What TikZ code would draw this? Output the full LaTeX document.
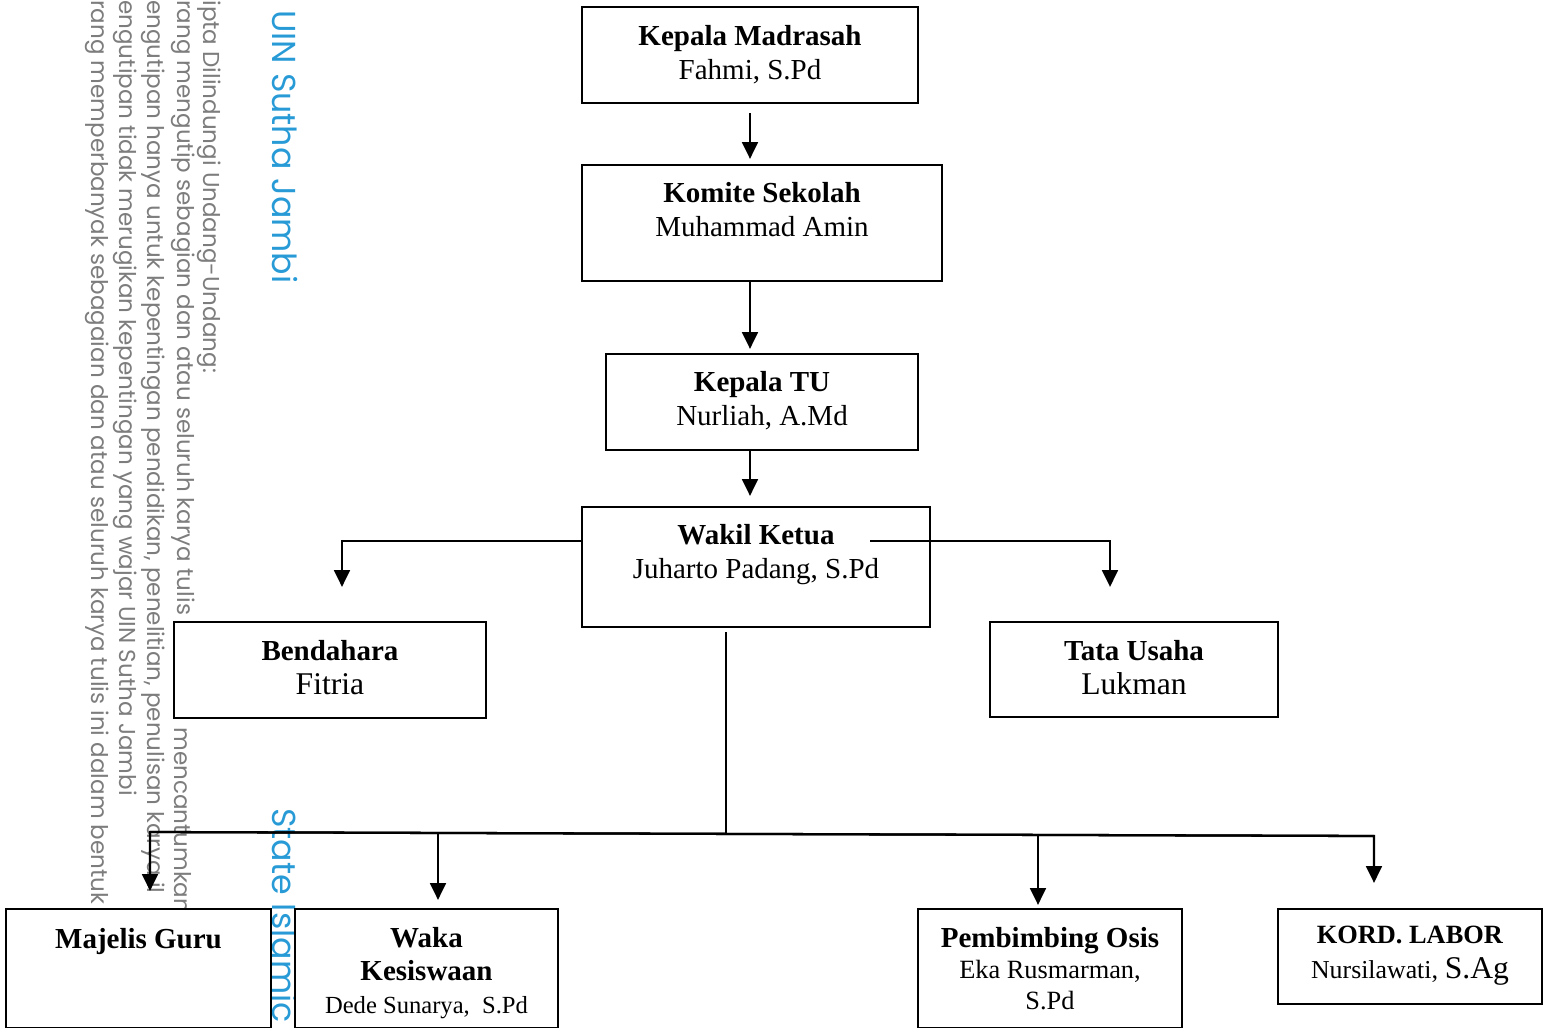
\documentclass[tikz,border=0pt]{standalone}
\usepackage{fontspec}
\setmainfont{Liberation Serif}
\newfontfamily\wmfont{Poppins}
\usetikzlibrary{positioning, arrows.meta}

\definecolor{wmgray}{RGB}{125,125,125}
\definecolor{wmblue}{RGB}{40,155,215}

\tikzset{
  unit/.style={draw, line width=1.3pt, fill=white, inner sep=0pt},
  lbl/.style={inner sep=0pt, align=center, font=\fontsize{16.5}{19.4}\selectfont},
  wm/.style={rotate=-90, anchor=west, inner sep=0pt, text=wmgray,
    font=\wmfont\fontsize{13.1}{15}\selectfont},
  wmb/.style={wm, text=wmblue, font=\wmfont\fontsize{18.9}{21}\selectfont},
  seg/.style={line width=1.3pt},
  link/.style={seg, -{Triangle[width=9pt,length=9.5pt]}}
}

\begin{document}
\begin{tikzpicture}[x=0.02cm, y=-0.02cm]
  \useasboundingbox (0,0) rectangle (1543,1028);

  % watermark of the scan
  \node[wm] (hak) at (209,0) {ipta Dilindungi Undang-Undang:};
  \node[wm] (kutipa) at (183,0) {rang mengutip sebagian dan atau seluruh karya tulis i};
  \node[wm] (kutipb) at (183,727) {mencantumkan};
  \node[wm] (guna) at (153,0) {engutipan hanya untuk kepentingan pendidikan, penelitian, penulisan karya il};
  \node[wm] (rugi) at (125,0) {engutipan tidak merugikan kepentingan yang wajar UIN Sutha Jambi};
  \node[wm] (banyak) at (97,0) {rang memperbanyak sebagaian dan atau seluruh karya tulis ini dalam bentuk};
  \node[wmb] (uin) at (285,10) {UIN Sutha Jambi};
  \node[wmb] (state) at (285,808) {State Islamic};

  % boxes
  \node[unit, minimum width=6.72cm, minimum height=1.92cm] (madrasah) at (750,55) {};
  \node[unit, minimum width=7.2cm, minimum height=2.32cm] (komite) at (762,223) {};
  \node[unit, minimum width=6.24cm, minimum height=1.92cm] (kepalatu) at (762,402) {};
  \node[unit, minimum width=6.96cm, minimum height=2.4cm] (wakil) at (756,567) {};
  \node[unit, minimum width=6.24cm, minimum height=1.92cm] (bendahara) at (330,670) {};
  \node[unit, minimum width=5.76cm, minimum height=1.9cm] (tatausaha) at (1134,669.5) {};
  \node[unit, minimum width=5.3cm, minimum height=2.38cm] (majelis) at (138.5,968.5) {};
  \node[unit, minimum width=5.26cm, minimum height=2.38cm] (waka) at (426.5,968.5) {};
  \node[unit, minimum width=5.28cm, minimum height=2.38cm] (pembimbing) at (1050,968.5) {};
  \node[unit, minimum width=5.28cm, minimum height=1.9cm] (kord) at (1410,956.5) {};

  % texts
  \node[lbl, below=0.38cm of madrasah.north] (tmadrasah) {\textbf{Kepala Madrasah}\\Fahmi, S.Pd};
  \node[lbl, below=0.36cm of komite.north] (tkomite) {\textbf{Komite Sekolah}\\Muhammad Amin};
  \node[lbl, below=0.36cm of kepalatu.north] (tkepalatu) {\textbf{Kepala TU}\\Nurliah, A.Md};
  \node[lbl, below=0.36cm of wakil.north] (twakil) {\textbf{Wakil Ketua}\\Juharto Padang, S.Pd};
  \node[lbl, below=0.38cm of bendahara.north] (tbendahara) {\textbf{Bendahara}\\{\fontsize{18}{19.4}\selectfont Fitria}};
  \node[lbl, below=0.38cm of tatausaha.north] (ttatausaha) {\textbf{Tata Usaha}\\{\fontsize{18}{19.4}\selectfont Lukman}};
  \node[lbl, below=0.4cm of majelis.north] (tmajelis) {\textbf{Majelis Guru}};
  \node[lbl, font=\fontsize{16.5}{18.8}\selectfont, below=0.38cm of waka.north] (twaka)
    {\textbf{Waka}\\\textbf{Kesiswaan}\\{\fontsize{14}{18.8}\selectfont Dede Sunarya,\ \ S.Pd}};
  \node[lbl, font=\fontsize{16.5}{17.6}\selectfont, below=0.38cm of pembimbing.north] (tpembimbing)
    {\textbf{Pembimbing Osis}\\{\fontsize{15}{17.6}\selectfont Eka Rusmarman,}\\{\fontsize{15}{17.6}\selectfont S.Pd}};
  \node[lbl, font=\fontsize{15}{20}\selectfont, below=0.36cm of kord.north] (tkord)
    {\textbf{KORD. LABOR}\\{\fontsize{14.7}{20}\selectfont Nursilawati}, {\fontsize{18}{20}\selectfont S.Ag}};

  % connectors
  \coordinate (wr) at (870,541);
  \coordinate (busL) at (150,832);
  \coordinate (busW) at (438,833);
  \coordinate (busM) at (726,834);
  \coordinate (busP) at (1038,835);
  \coordinate (busR) at (1374,836);

  \draw[link, shorten <=0.18cm, shorten >=0.1cm] (madrasah.south) -- (madrasah.south |- komite.north);
  \draw[link, shorten >=0.08cm] (madrasah.south |- komite.south) -- (madrasah.south |- kepalatu.north);
  \draw[link, shorten >=0.2cm] (madrasah.south |- kepalatu.south) -- (madrasah.south |- wakil.north);
  \draw[link, shorten >=0.68cm] ([yshift=0.52cm]wakil.west) -| ([xshift=0.24cm]bendahara.north);
  \draw[link, shorten >=0.68cm] (wr) -| ([xshift=-0.48cm]tatausaha.north);
  \draw[seg, shorten <=0.08cm] (busM |- wakil.south) -- (busM);
  \draw[link, shorten >=0.34cm] (busR) -- (busL) -- (busL |- majelis.north);
  \draw[link, shorten >=0.5cm] (busL) -- (busR) -- (busR |- kord.north);
  \draw[link, shorten >=0.16cm] (busW) -- (busW |- waka.north);
  \draw[link, shorten >=0.06cm] (busP) -- (busP |- pembimbing.north);
\end{tikzpicture}
\end{document}
